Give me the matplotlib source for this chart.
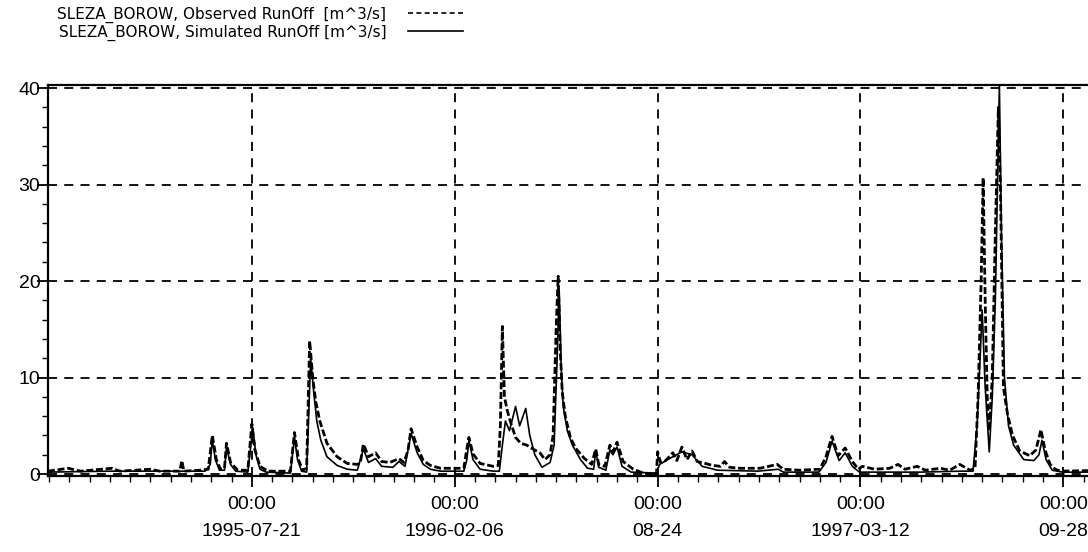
import matplotlib
matplotlib.use("Agg")
import matplotlib.pyplot as plt
import matplotlib.dates as mdates
import numpy as np

# days since 1995-01-01 and runoff [m^3/s]
obs_day = [0, 20, 32, 63, 71, 101, 110, 130, 132, 134, 150, 158, 162, 166, 170, 174, 176, 180, 187,
           197, 201, 204, 209, 217, 239, 243, 247, 251, 255, 258, 261, 264, 268, 275, 285, 295, 305,
           308, 311, 316, 323, 329, 337, 346, 351, 355, 358, 364, 370, 377, 387, 410, 412, 415, 419,
           426, 439, 444, 446, 448, 450, 453, 456, 461, 466, 472, 478, 485, 490, 495, 498, 501, 503,
           505, 507, 510, 515, 520, 529, 536, 540, 543, 549, 554, 557, 561, 567, 577, 587, 597, 600,
           601, 604, 609, 616, 620, 625, 630, 635, 640, 648, 655, 663, 667, 672, 682, 702, 719, 725,
           741, 761, 767, 773, 779, 786, 793, 799, 803, 815, 830, 838, 845, 857, 865, 880, 889, 899,
           909, 914, 917, 920, 922, 924, 926, 928, 931, 934, 937, 939, 942, 946, 951, 958, 968, 974,
           979, 983, 988, 993, 998, 1048]
obs_val = [0.3, 0.6, 0.3, 0.6, 0.3, 0.5, 0.3, 0.3, 1.4, 0.3, 0.4, 0.5, 4.0, 1.5, 0.5, 0.6, 3.2, 1.2, 0.4,
           0.4, 5.2, 2.5, 0.8, 0.3, 0.3, 4.3, 1.5, 0.4, 0.6, 13.8, 10.0, 7.5, 5.5, 3.2, 1.8, 1.1, 1.0,
           1.2, 3.1, 1.8, 2.2, 1.3, 1.2, 1.6, 1.2, 2.5, 4.7, 2.8, 1.4, 0.9, 0.6, 0.6, 2.0, 3.8, 2.1,
           1.1, 0.8, 0.9, 5.0, 15.3, 8.0, 6.5, 5.4, 3.8, 3.2, 3.0, 2.6, 2.2, 1.5, 2.0, 4.0, 15.0, 20.5,
           13.0, 8.5, 6.0, 3.8, 2.7, 1.6, 1.0, 2.6, 1.0, 0.8, 3.0, 2.3, 3.3, 1.3, 0.5, 0.1, -0.1, 0.1,
           2.3, 1.2, 1.4, 2.2, 1.4, 2.8, 1.5, 2.4, 1.3, 1.1, 0.9, 0.8, 1.3, 0.7, 0.6, 0.6, 1.0, 0.5,
           0.4, 0.5, 1.8, 3.9, 1.9, 2.7, 1.3, 0.5, 0.8, 0.5, 0.6, 1.0, 0.5, 0.8, 0.4, 0.6, 0.4, 1.0,
           0.4, 0.6, 8.0, 20.0, 30.7, 18.0, 8.0, 4.5, 10.0, 25.0, 38.0, 30.0, 9.0, 6.2, 4.0, 2.4, 1.9, 2.5,
           4.6, 2.5, 1.0, 0.5, 0.3, 0.4]

sim_day = [0, 60, 120, 155, 160, 162, 165, 169, 174, 176, 180, 185, 197, 200, 202, 205, 209, 215, 239,
           243, 246, 250, 255, 257, 259, 262, 265, 269, 275, 285, 295, 305, 311, 316, 323, 329, 340,
           346, 352, 358, 364, 370, 377, 387, 410, 413, 415, 419, 426, 439, 445, 448, 451, 455, 461,
           465, 471, 475, 480, 487, 495, 499, 502, 504, 506, 508, 512, 517, 525, 532, 538, 540, 543,
           550, 554, 557, 561, 566, 575, 600, 603, 616, 625, 635, 645, 660, 700, 720, 725, 760, 767,
           773, 780, 786, 793, 800, 830, 860, 900, 912, 916, 919, 921, 924, 928, 931, 934, 938, 940,
           943, 947, 952, 962, 972, 977, 980, 984, 990, 1000, 1048]
sim_val = [0.2, 0.3, 0.3, 0.3, 1.0, 3.6, 1.5, 0.4, 0.4, 2.8, 1.0, 0.3, 0.2, 3.0, 4.8, 2.0, 0.5, 0.2, 0.1,
           3.8, 1.5, 0.3, 0.2, 6.0, 12.0, 8.5, 5.5, 3.5, 1.8, 0.9, 0.5, 0.4, 2.6, 1.2, 1.6, 0.8, 0.7,
           1.3, 0.8, 4.2, 2.2, 1.0, 0.5, 0.3, 0.3, 1.5, 3.5, 1.5, 0.5, 0.3, 0.3, 3.0, 5.5, 4.5, 7.0,
           5.0, 6.8, 4.0, 2.0, 0.7, 1.2, 3.0, 12.0, 19.0, 11.0, 7.0, 4.5, 3.0, 1.5, 0.6, 0.5, 2.4, 0.7,
           0.4, 2.5, 2.0, 2.8, 0.8, 0.2, 0.1, 1.0, 1.8, 2.3, 2.0, 0.8, 0.4, 0.3, 0.5, 0.2, 0.2, 1.2,
           3.4, 1.4, 2.2, 0.8, 0.2, 0.2, 0.2, 0.3, 0.3, 5.0, 12.0, 17.0, 9.0, 2.3, 8.0, 18.0, 40.3, 25.0,
           10.0, 5.0, 3.0, 1.5, 1.4, 2.0, 3.5, 1.5, 0.4, 0.2, 0.2]

tick_dates = ["1995-07-21", "1996-02-06", "1996-08-24", "1997-03-12", "1997-09-28"]
tick_labels = ["00:00\n1995-07-21", "00:00\n1996-02-06", "00:00\n08-24",
               "00:00\n1997-03-12", "00:00\n09-28"]

obs_label = "SLEZA_BOROW, Observed RunOff  [m^3/s]"
sim_label = "SLEZA_BOROW, Simulated RunOff [m^3/s]"

start = np.datetime64("1995-01-01")
obs_t = start + np.array(obs_day) * np.timedelta64(1, "D")
sim_t = start + np.array(sim_day) * np.timedelta64(1, "D")

plt.rcParams['font.family'] = ['Liberation Sans', 'DejaVu Sans']

fig = plt.figure(figsize=(10.88, 5.52), dpi=100)
ax = fig.add_axes([0.0441, 0.1377, 0.977, 0.708])

l_obs, = ax.plot(obs_t, obs_val, color='black', lw=2.0, linestyle=(0, (2.5, 1)), zorder=3)
l_sim, = ax.plot(sim_t, sim_val, color='black', lw=1.2, zorder=4)

ax.set_xlim(start, start + np.timedelta64(1048, "D"))
ax.set_ylim(-0.2, 40.3)

major = [mdates.date2num(np.datetime64(d)) for d in tick_dates]
ax.set_xticks(major)
ax.set_xticklabels(tick_labels, linespacing=1.75)
minor = mdates.date2num(np.datetime64("1995-01-02") + np.arange(0, 1060, 20) * np.timedelta64(1, "D"))
ax.set_xticks(minor, minor=True)
ax.set_yticks([0, 10, 20, 30, 40])
ax.set_yticks(np.arange(0, 41, 2), minor=True)

ax.tick_params(axis='both', which='major', direction='out', length=8, width=1.3, labelsize=14)
ax.tick_params(axis='both', which='minor', direction='out', length=4, width=1.0)
ax.tick_params(axis='x', which='major', pad=6.5)
ax.tick_params(axis='y', which='major', pad=-2.5)

ax.grid(True, which='major', color='black', linestyle=(0, (5, 4)), linewidth=1.3)
ax.set_axisbelow(True)
for s in ax.spines.values():
    s.set_linewidth(1.6)

leg = fig.legend([l_obs, l_sim], [obs_label, sim_label], loc='upper left',
                 bbox_to_anchor=(0.04, 1.013), markerfirst=False, frameon=False,
                 handlelength=3.6, handletextpad=1.4, labelspacing=0.12,
                 prop={'family': ['DejaVu Sans'], 'size': 11})
leg.get_lines()[0].set_linewidth(1.2)
leg.get_lines()[0].set_linestyle((0, (3, 2)))

fig.savefig("out.png", dpi=100)
